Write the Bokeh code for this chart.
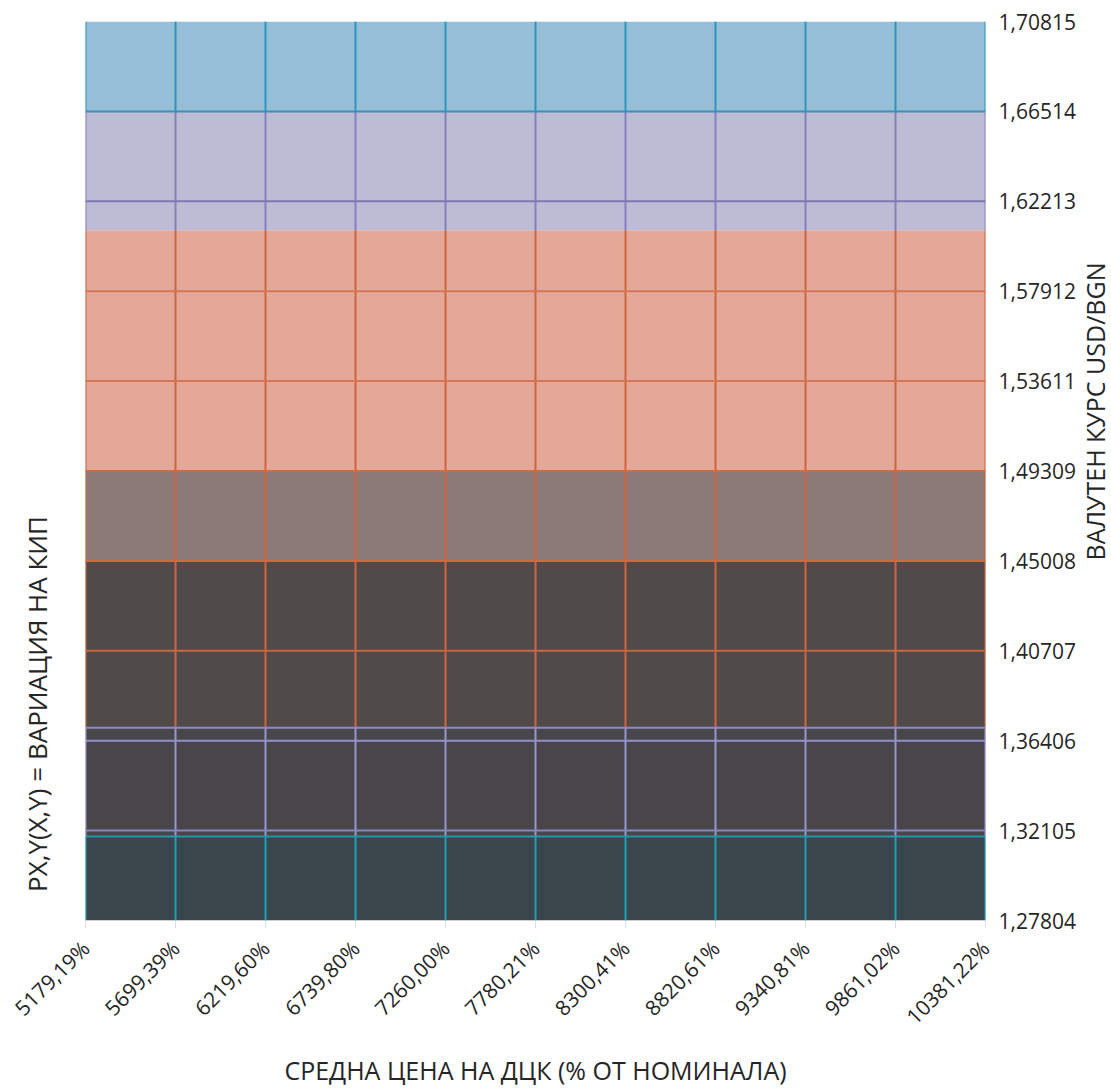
import math
import numpy as np
from bokeh.plotting import figure
from bokeh.models import FixedTicker, Range1d, Label, LinearAxis
from bokeh.layouts import row
from bokeh.embed import file_html
from bokeh.resources import INLINE

# ---- data ----
x_ticks = [5179.19, 5699.39, 6219.60, 6739.80, 7260.00, 7780.21, 8300.41, 8820.61, 9340.81, 9861.02, 10381.22]
x_labels = ["5179,19%", "5699,39%", "6219,60%", "6739,80%", "7260,00%", "7780,21%",
            "8300,41%", "8820,61%", "9340,81%", "9861,02%", "10381,22%"]
y_ticks = [1.27804, 1.32105, 1.36406, 1.40707, 1.45008, 1.49309, 1.53611, 1.57912, 1.62213, 1.66514, 1.70815]
y_labels = ["1,27804", "1,32105", "1,36406", "1,40707", "1,45008", "1,49309",
            "1,53611", "1,57912", "1,62213", "1,66514", "1,70815"]

# colour bands of the surface (bottom -> top)
band_bottom = [1.27804, 1.31818, 1.37028, 1.45008, 1.49309, 1.60827, 1.66514]
band_top = [1.31818, 1.37028, 1.45008, 1.49309, 1.60827, 1.66514, 1.70815]
band_colors = ["#3A464B", "#484648", "#504B4A", "#8C7A78", "#E4A898", "#BEBCD5", "#96BED7"]

# horizontal mesh lines
hline_y = [1.31818, 1.32105, 1.36406, 1.37028, 1.40707, 1.45008, 1.49309, 1.53611, 1.57912, 1.62213, 1.66514]
hline_colors = ["#2A95A8", "#8886BE", "#9290CC", "#8C8AC4", "#C8663F", "#CC6A44", "#D06A45",
                "#D77556", "#D77556", "#7D79B3", "#3D8FB8"]

# vertical mesh line colour zones
vzone_bottom = [1.27804, 1.31818, 1.37028, 1.60827, 1.66514]
vzone_top = [1.31818, 1.37028, 1.60827, 1.66514, 1.70815]
vzone_colors = ["#1A9FB8", "#9896D0", "#CE643E", "#8480C0", "#2A95BE"]

x_title = "СРЕДНА ЦЕНА НА ДЦК (% ОТ НОМИНАЛА)"
left_title = "PX,Y(X,Y) = ВАРИАЦИЯ НА КИП"
right_title = "ВАЛУТЕН КУРС USD/BGN"

FONT = "Open Sans"
TXT = "#262626"
NB = "\u00a0"
H = 1089

p = figure(frame_width=900, frame_height=899, output_backend="svg", toolbar_location=None,
           x_range=Range1d(x_ticks[0], x_ticks[-1]), y_range=Range1d(y_ticks[0], y_ticks[-1]),
           y_axis_location="right", min_border_left=85, min_border_right=90,
           min_border_top=21, min_border_bottom=H - 21 - 899)
p.outline_line_color = None
p.xgrid.visible = False
p.ygrid.visible = False
p.background_fill_color = "white"

# bands
p.quad(left=x_ticks[0], right=x_ticks[-1], bottom=band_bottom, top=band_top,
       fill_color=band_colors, line_color=None)

# vertical mesh lines
vx, vy0, vy1, vc = [], [], [], []
for xv in x_ticks:
    for b, t, c in zip(vzone_bottom, vzone_top, vzone_colors):
        vx.append(xv); vy0.append(b); vy1.append(t); vc.append(c)
p.segment(x0=vx, x1=vx, y0=vy0, y1=vy1, line_color=vc, line_width=2)

# horizontal mesh lines
p.segment(x0=x_ticks[0], x1=x_ticks[-1], y0=hline_y, y1=hline_y, line_color=hline_colors, line_width=2)

# x axis
xa = p.xaxis[0]
xa.ticker = FixedTicker(ticks=x_ticks)
xa.major_label_overrides = {t: l for t, l in zip(x_ticks, x_labels)}
xa.major_label_orientation = math.pi / 4
xa.major_label_text_font = FONT
xa.major_label_text_font_size = "21px"
xa.major_label_text_color = TXT
xa.major_label_standoff = 16
xa.axis_line_color = None
xa.major_tick_out = 8
xa.major_tick_in = 0
xa.major_tick_line_color = "#d8dfe6"
xa.minor_tick_line_color = None
xa.axis_label = x_title
xa.axis_label_text_font = FONT
xa.axis_label_text_font_size = "25px"
xa.axis_label_text_font_style = "normal"
xa.axis_label_text_color = TXT
xa.axis_label_standoff = 10

# y axis (right)
ya = p.yaxis[0]
ya.ticker = FixedTicker(ticks=y_ticks)
ya.major_label_overrides = {t: l for t, l in zip(y_ticks, y_labels)}
ya.major_label_text_font = FONT
ya.major_label_text_font_size = "21px"
ya.major_label_text_color = TXT
ya.major_label_standoff = 13
ya.axis_line_color = None
ya.major_tick_out = 0
ya.major_tick_in = 0
ya.minor_tick_line_color = None

# left title: an empty left axis carries it; non-breaking spaces shift it down as in the reference
p.add_layout(LinearAxis(ticker=FixedTicker(ticks=[]), axis_label=left_title + NB * 69,
                        axis_line_color=None, major_tick_line_color=None, minor_tick_line_color=None,
                        major_tick_out=0, major_tick_in=0, major_label_standoff=0,
                        axis_label_standoff=31,
                        axis_label_text_font=FONT, axis_label_text_font_size="26px",
                        axis_label_text_font_style="normal", axis_label_text_color=TXT), "left")

# right title in a narrow companion figure
p_right = figure(frame_width=32, frame_height=H, output_backend="svg", toolbar_location=None,
                 x_axis_location=None, y_axis_location=None, min_border=0,
                 x_range=Range1d(0, 1), y_range=Range1d(0, 1))
p_right.outline_line_color = None
p_right.xgrid.visible = False
p_right.ygrid.visible = False
p_right.add_layout(Label(x=16, y=H - 390, x_units="screen", y_units="screen",
                         angle=math.pi / 2, text=right_title, text_align="center",
                         text_baseline="middle", text_font=FONT, text_font_size="25px",
                         text_color=TXT))

layout = row(p, p_right)
open("out.html", "w").write(file_html(layout, INLINE))
